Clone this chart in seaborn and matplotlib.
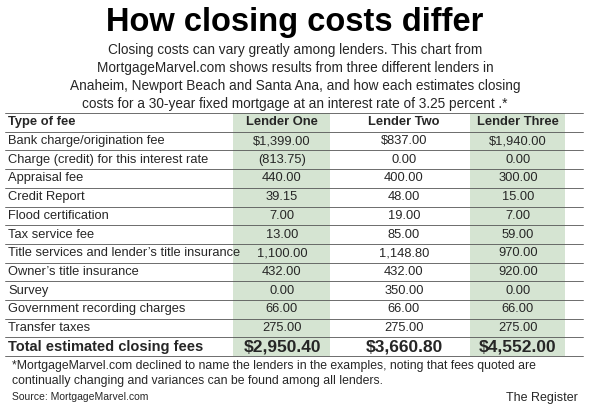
import matplotlib
matplotlib.use("Agg")
import matplotlib.pyplot as plt
import seaborn as sns

sns.set_theme(style="white")
plt.rcParams['font.family'] = ['Liberation Sans', 'DejaVu Sans']

title = "How closing costs differ"
subtitle = ["Closing costs can vary greatly among lenders. This chart from",
            "MortgageMarvel.com shows results from three different lenders in",
            "Anaheim, Newport Beach and Santa Ana, and how each estimates closing",
            "costs for a 30-year fixed mortgage at an interest rate of 3.25 percent .*"]
lenders = ["Lender One", "Lender Two", "Lender Three"]
fees = ["Bank charge/origination fee", "Charge (credit) for this interest rate", "Appraisal fee",
        "Credit Report", "Flood certification", "Tax service fee",
        "Title services and lender\u2019s title insurance", "Owner\u2019s title insurance", "Survey",
        "Government recording charges", "Transfer taxes"]
lender_one = ["$1,399.00", "(813.75)", "440.00", "39.15", "7.00", "13.00", "1,100.00", "432.00", "0.00", "66.00", "275.00"]
lender_two = ["$837.00", "0.00", "400.00", "48.00", "19.00", "85.00", "1,148.80", "432.00", "350.00", "66.00", "275.00"]
lender_three = ["$1,940.00", "0.00", "300.00", "15.00", "7.00", "59.00", "970.00", "920.00", "0.00", "66.00", "275.00"]
totals = ["$2,950.40", "$3,660.80", "$4,552.00"]
footnote = ["*MortgageMarvel.com declined to name the lenders in the examples, noting that fees quoted are",
            "continually changing and variances can be found among all lenders."]
source = "Source: MortgageMarvel.com"
credit = "The Register"

fig = plt.figure(figsize=(5.9, 4.12), dpi=100)
ax = fig.add_axes([0, 0, 1, 1])
ax.set_xlim(0, 590); ax.set_ylim(412, 0); ax.axis("off")

green = "#d5e4d2"
ax.text(295, 22, title, ha="center", va="center", fontsize=23.5, fontweight="bold", color="black")
for i, s in enumerate(subtitle):
    ax.text(295, 50 + i * 18, s, ha="center", va="center", fontsize=9.8)

top, rh = 113, 18.7
nrows = len(fees) + 2
cols_x = [282, 404, 518]
ax.fill_between([233, 330], top, top + rh * nrows, color=green, lw=0)
ax.fill_between([470, 565], top, top + rh * nrows, color=green, lw=0)
for r in range(nrows + 1):
    ax.plot([5, 583], [top + r * rh] * 2, color="#555555", lw=0.6)

def row_y(r):
    return top + rh * r + rh / 2

ax.text(8, row_y(0), "Type of fee", va="center", fontsize=9.3, fontweight="bold")
for c, l in zip(cols_x, lenders):
    ax.text(c, row_y(0), l, ha="center", va="center", fontsize=9.3, fontweight="bold")
for i, f in enumerate(fees):
    y = row_y(i + 1)
    ax.text(8, y, f, va="center", fontsize=9.3)
    for c, v in zip(cols_x, (lender_one[i], lender_two[i], lender_three[i])):
        ax.text(c, y, v, ha="center", va="center", fontsize=9.3)
y = row_y(nrows - 1)
ax.text(8, y, "Total estimated closing fees", va="center", fontsize=10.5, fontweight="bold")
for c, v in zip(cols_x, totals):
    ax.text(c, y, v, ha="center", va="center", fontsize=12.5, fontweight="bold")

ax.text(12, 366, footnote[0], va="center", fontsize=8.8)
ax.text(12, 381, footnote[1], va="center", fontsize=8.8)
ax.text(12, 397, source, va="center", fontsize=7.5)
ax.text(578, 398, credit, ha="right", va="center", fontsize=9)

fig.savefig("out.png", dpi=100)
